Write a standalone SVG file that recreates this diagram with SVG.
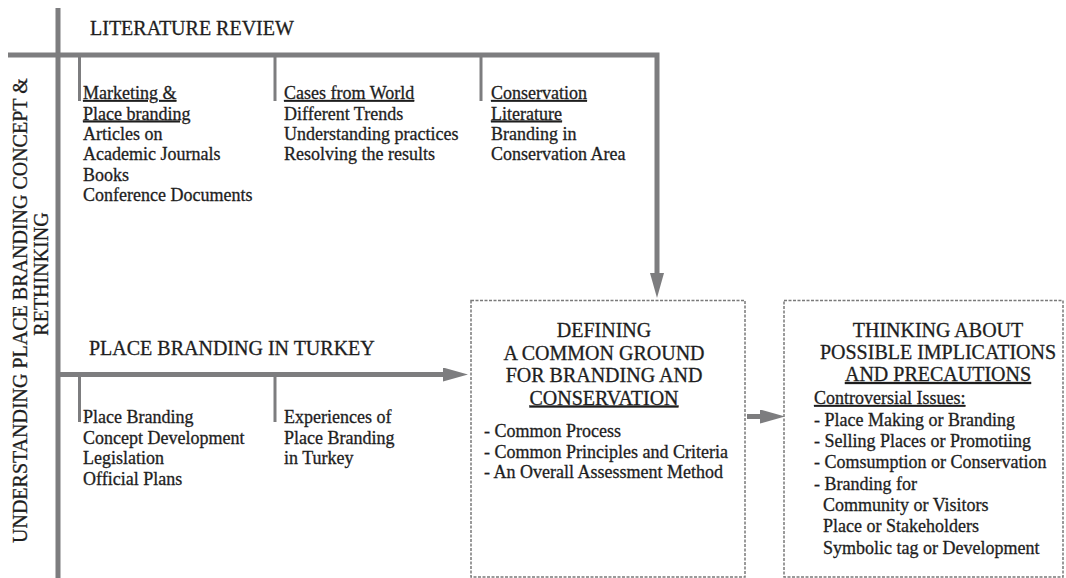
<svg xmlns="http://www.w3.org/2000/svg" width="1066" height="578" viewBox="0 0 1066 578">
  <defs>
    <style>
      .bar { stroke: #7d7d7f; stroke-width: 5; fill: none; stroke-linejoin: miter; }
      .tick { stroke: #7d7d7f; stroke-width: 3; fill: none; }
      .frame { fill: #ffffff; stroke: #7a7a7a; stroke-width: 1.5; stroke-dasharray: 3 1.5; }
      text { font-family: "Liberation Serif", "Times New Roman", serif; fill: #1e1e1e; stroke: #1e1e1e; stroke-width: 0.3; }
      .head { font-size: 20px; }
      .body { font-size: 18px; }
      .title { font-size: 20px; text-anchor: middle; }
      .u { text-decoration: underline; }
    </style>
    <marker id="arrow" markerUnits="userSpaceOnUse" markerWidth="25" markerHeight="14" refX="0" refY="7" orient="auto">
      <path d="M0,0 L25,7 L0,14 z" fill="#7d7d7f"/>
    </marker>
  </defs>

  <!-- framework lines and arrows -->
  <g id="connectors">
    <line class="bar" x1="58" y1="8" x2="58" y2="578"/>
    <path class="bar" d="M8,55 H657 V273" marker-end="url(#arrow)"/>
    <line class="bar" x1="58" y1="374.5" x2="443" y2="374.5" marker-end="url(#arrow)"/>
    <line class="bar" x1="747" y1="416.5" x2="760" y2="416.5" marker-end="url(#arrow)"/>
    <line class="tick" x1="79.5" y1="57" x2="79.5" y2="101"/>
    <line class="tick" x1="275" y1="57" x2="275" y2="101"/>
    <line class="tick" x1="481" y1="57" x2="481" y2="101"/>
    <line class="tick" x1="79.5" y1="377" x2="79.5" y2="422"/>
    <line class="tick" x1="275" y1="377" x2="275" y2="422"/>
  </g>

  <!-- side label -->
  <g id="side-label">
    <text class="head" transform="translate(27,543) rotate(-90)">UNDERSTANDING PLACE BRANDING CONCEPT &amp;</text>
    <text class="head" text-anchor="middle" transform="translate(48,274) rotate(-90)">RETHINKING</text>
  </g>

  <g id="literature-review">
    <text class="head" x="90" y="35">LITERATURE REVIEW</text>
  </g>

  <g id="marketing">
    <text class="body u" x="83" y="99">Marketing &amp;</text>
    <text class="body u" x="83" y="119.5">Place branding</text>
    <text class="body" x="83" y="140">Articles on</text>
    <text class="body" x="83" y="160">Academic Journals</text>
    <text class="body" x="83" y="180.5">Books</text>
    <text class="body" x="83" y="201">Conference Documents</text>
  </g>

  <g id="cases">
    <text class="body u" x="284" y="99">Cases from World</text>
    <text class="body" x="284" y="119.5">Different Trends</text>
    <text class="body" x="284" y="140">Understanding practices</text>
    <text class="body" x="284" y="160">Resolving the results</text>
  </g>

  <g id="conservation">
    <text class="body u" x="491" y="99">Conservation</text>
    <text class="body u" x="491" y="119.5">Literature</text>
    <text class="body" x="491" y="140">Branding in</text>
    <text class="body" x="491" y="160">Conservation Area</text>
  </g>

  <g id="place-branding-turkey">
    <text class="head" x="89" y="355">PLACE BRANDING IN TURKEY</text>
  </g>

  <g id="concept">
    <text class="body" x="83" y="423">Place Branding</text>
    <text class="body" x="83" y="443.5">Concept Development</text>
    <text class="body" x="83" y="464">Legislation</text>
    <text class="body" x="83" y="484.5">Official Plans</text>
  </g>

  <g id="experiences">
    <text class="body" x="284" y="423">Experiences of</text>
    <text class="body" x="284" y="443.5">Place Branding</text>
    <text class="body" x="284" y="464">in Turkey</text>
  </g>

  <g id="common-ground">
    <rect class="frame" x="471" y="300.5" width="274" height="276.5"/>
    <text class="title" x="604" y="337">DEFINING</text>
    <text class="title" x="604" y="359.5">A COMMON GROUND</text>
    <text class="title" x="604" y="382">FOR BRANDING AND</text>
    <text class="title u" x="604" y="404.5">CONSERVATION</text>
    <text class="body" x="484" y="437">- Common Process</text>
    <text class="body" x="484" y="457.5">- Common Principles and Criteria</text>
    <text class="body" x="484" y="478">- An Overall Assessment Method</text>
  </g>

  <g id="implications">
    <rect class="frame" x="784" y="300.5" width="279" height="276.5"/>
    <text class="title" x="938" y="337">THINKING ABOUT</text>
    <text class="title" x="938" y="359">POSSIBLE IMPLICATIONS</text>
    <text class="title u" x="938" y="381">AND PRECAUTIONS</text>
    <text class="body u" x="814" y="404">Controversial Issues:</text>
    <text class="body" x="814" y="425.5">- Place Making or Branding</text>
    <text class="body" x="814" y="447">- Selling Places or Promotiing</text>
    <text class="body" x="814" y="468">- Comsumption or Conservation</text>
    <text class="body" x="814" y="489.5">- Branding for</text>
    <text class="body" x="823" y="511">Community or Visitors</text>
    <text class="body" x="823" y="532">Place or Stakeholders</text>
    <text class="body" x="823" y="553.5">Symbolic tag or Development</text>
  </g>
</svg>
